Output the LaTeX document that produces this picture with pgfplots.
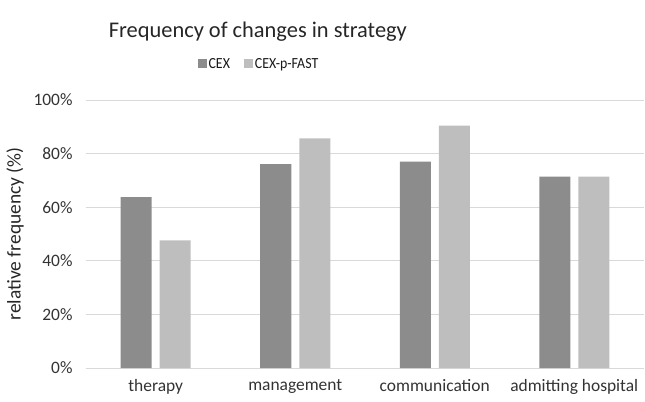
\documentclass[border=0pt]{standalone}
\usepackage{pgfplots}
\pgfplotsset{compat=1.18}
\usepackage{fontspec}
\setmainfont{Carlito}
\definecolor{cexdark}{HTML}{8C8C8C}
\definecolor{cexlight}{HTML}{BEBEBE}
\definecolor{gridgray}{HTML}{D9D9D9}
\begin{document}
\begin{tikzpicture}
  \useasboundingbox (-86bp,-34bp) rectangle (559bp,368bp);
  \begin{axis}[
    at={(0,0)}, anchor=south west,
    scale only axis,
    width=558bp, height=268bp,
    clip=false,
    ybar=8bp, bar width=31bp,
    xmin=-0.5, xmax=3.5,
    ymin=0, ymax=100,
    xtick=data,
    xticklabels={therapy, management, communication, admitting hospital},
    ytick={0,20,40,60,80,100},
    yticklabels={0\%,20\%,40\%,60\%,80\%,100\%},
    ymajorgrids=true,
    grid style={gridgray, line width=0.9pt},
    axis x line*=bottom,
    axis y line*=left,
    x axis line style={gridgray, line width=0.9pt, -},
    y axis line style={draw=none},
    major tick length=0pt,
    tick label style={font=\fontsize{17.5}{20}\selectfont, text=black!80},
    xticklabel style={yshift=-8bp},
    yticklabel style={xshift=-10bp},
    ylabel={relative frequency (\%)},
    ylabel style={font=\fontsize{19.5}{22}\selectfont, text=black!85, at={(axis description cs:-0.127,0.5)}, anchor=center},
    legend columns=2,
    legend style={draw=none, at={(axis description cs:0.31,1.135)}, anchor=center,
      font=\fontsize{15.5}{17}\selectfont, text=black!90,
      /tikz/every odd column/.append style={column sep=0bp},
      /tikz/every even column/.append style={column sep=12bp}},
    legend image code/.code={\fill[#1] (0bp,-4.5bp) rectangle (9bp,4.5bp);},
  ]
    \addplot[fill=cexdark, draw=none] coordinates {(0,63.8) (1,76.1) (2,77.0) (3,71.4)};
    \addlegendentry{\scalebox{0.9}[1]{CEX}}
    \addplot[fill=cexlight, draw=none] coordinates {(0,47.6) (1,85.7) (2,90.4) (3,71.4)};
    \addlegendentry{\scalebox{0.9}[1]{CEX-p-FAST}}
    \node[font=\fontsize{22.5}{26}\selectfont, text=black!85] at (axis description cs:0.308,1.255) {Frequency of changes in strategy};
  \end{axis}
\end{tikzpicture}
\end{document}
